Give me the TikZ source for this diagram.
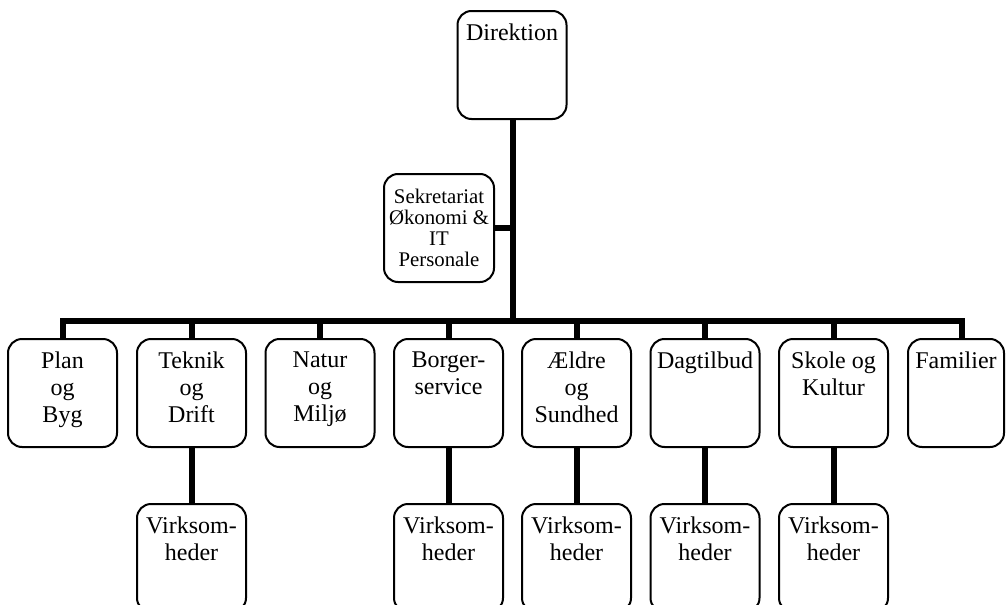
\documentclass[tikz,border=0pt]{standalone}
\usepackage{fontspec}
\setmainfont{Liberation Serif}
\newcommand{\unitbox}[2][54.5pt]{\parbox[c][54pt][t]{#1}{\centering\vspace*{6.5pt}#2}}
\tikzset{unit/.style={draw, line width=1pt, rounded corners=7pt, inner sep=0pt,
    font=\fontsize{12}{13.5}\selectfont},
  link/.style={line width=3pt, line join=miter}}

\begin{document}
\begin{tikzpicture}[x=0.5pt, y=-0.5pt]
\useasboundingbox (0,0) rectangle (1007,605);
\clip (0,0) rectangle (1007,605);

\node[unit] (dir) at (512,65) {\unitbox{Direktion}};
\node[unit, font=\fontsize{10.4}{10.5}\selectfont] (sek) at (439,228)
  {\parbox[c][54pt][t]{55pt}{\centering\vspace*{7.5pt}Sekretariat\\Økonomi \&\\IT\\Personale}};

\node[unit] (plan) at (62.5,393)  {\unitbox{Plan\\og\\Byg}};
\node[unit] (tek)  at (191.5,393) {\unitbox{Teknik\\og\\Drift}};
\node[unit] (nat)  at (320,393)   {\unitbox{Natur\\og\\Miljø}};
\node[unit] (bor)  at (448.5,393) {\unitbox{Borger-\\service}};
\node[unit] (ald)  at (576.5,393) {\unitbox{Ældre\\og\\Sundhed}};
\node[unit] (dag)  at (705,393)   {\unitbox{Dagtilbud}};
\node[unit] (sko)  at (833.5,393) {\unitbox{Skole og\\Kultur}};
\node[unit] (fam)  at (956,393)   {\unitbox[48pt]{Familier}};

\node[unit] (tek-v) at (191.5,558) {\unitbox{Virksom-\\heder}};
\node[unit] (bor-v) at (448.5,558) {\unitbox{Virksom-\\heder}};
\node[unit] (ald-v) at (576.5,558) {\unitbox{Virksom-\\heder}};
\node[unit] (dag-v) at (705,558)   {\unitbox{Virksom-\\heder}};
\node[unit] (sko-v) at (833.5,558) {\unitbox{Virksom-\\heder}};

\coordinate (bar) at (513,321);
\coordinate (fam-top) at (962,321);

\draw[link] (dir.south -| bar) -- (bar);
\draw[link] (sek.east) -- (sek.east -| bar);
\draw[link] (plan.north) -- (plan.north |- bar) -- (fam-top) -- (fam-top |- fam.north);
\draw[link] (tek.north) -- (tek.north |- bar);
\draw[link] (nat.north) -- (nat.north |- bar);
\draw[link] (bor.north) -- (bor.north |- bar);
\draw[link] (ald.north) -- (ald.north |- bar);
\draw[link] (dag.north) -- (dag.north |- bar);
\draw[link] (sko.north) -- (sko.north |- bar);

\draw[link] (tek.south) -- (tek-v.north);
\draw[link] (bor.south) -- (bor-v.north);
\draw[link] (ald.south) -- (ald-v.north);
\draw[link] (dag.south) -- (dag-v.north);
\draw[link] (sko.south) -- (sko-v.north);
\end{tikzpicture}
\end{document}
